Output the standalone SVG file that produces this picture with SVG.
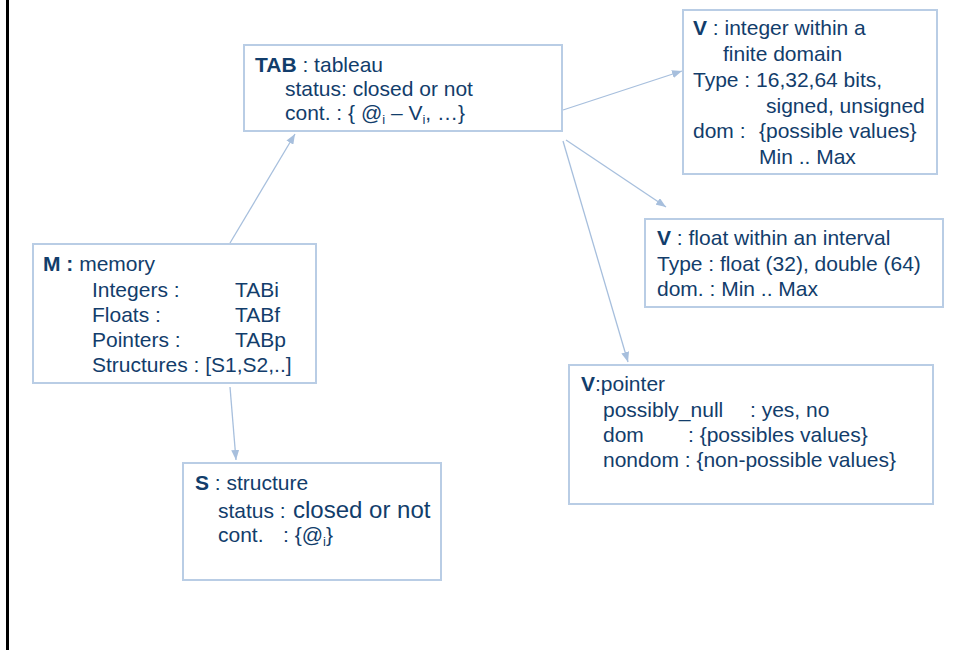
<svg xmlns="http://www.w3.org/2000/svg" width="953" height="650" viewBox="0 0 953 650">
<style>
.box{fill:#ffffff;stroke:#B9CDE5;stroke-width:2}
.t{font-family:"Liberation Sans",Arial,sans-serif;font-size:21px;fill:#123D6B}
.b{font-weight:bold}
.big{font-size:24px}
.sub{font-size:13px}
.conn{stroke:#A7BFDD;stroke-width:1.3;fill:none;marker-end:url(#ah)}
</style>
<defs>
<marker id="ah" markerUnits="userSpaceOnUse" markerWidth="10" markerHeight="8" refX="10" refY="4" orient="auto">
<path d="M0,0 L10,4 L0,8 z" fill="#A7BFDD"/>
</marker>
</defs>
<rect width="953" height="650" fill="#ffffff"/>
<line x1="7.5" y1="0" x2="7.5" y2="650" stroke="#000000" stroke-width="3"/>

<g id="connectors">
<line class="conn" x1="230" y1="243" x2="295" y2="134"/>
<line class="conn" x1="563" y1="110" x2="682" y2="71"/>
<line class="conn" x1="566" y1="140" x2="666" y2="207"/>
<line class="conn" x1="563" y1="141" x2="628" y2="362"/>
<line class="conn" x1="230" y1="387" x2="236" y2="460"/>
</g>

<g id="tab">
<rect class="box" x="244" y="45" width="318" height="86"/>
<text class="t" x="255" y="72"><tspan class="b">TAB</tspan> : tableau</text>
<text class="t" x="285" y="96">status: closed or not</text>
<text class="t" x="285" y="120">cont. : { @<tspan class="sub" dy="4">i</tspan><tspan dy="-4"> – V</tspan><tspan class="sub" dy="4">i</tspan><tspan dy="-4">, …}</tspan></text>
</g>

<g id="vint">
<rect class="box" x="683" y="10" width="254" height="164"/>
<text class="t" x="693" y="35"><tspan class="b">V</tspan> : integer within a</text>
<text class="t" x="723" y="61">finite domain</text>
<text class="t" x="693" y="87">Type : 16,32,64 bits,</text>
<text class="t" x="766" y="112.5">signed, unsigned</text>
<text class="t" x="693" y="138">dom :<tspan x="759">{possible values}</tspan></text>
<text class="t" x="759" y="164">Min .. Max</text>
</g>

<g id="vfloat">
<rect class="box" x="645" y="219" width="298" height="88"/>
<text class="t" x="657" y="245"><tspan class="b">V</tspan> : float within an interval</text>
<text class="t" x="657" y="270.5">Type : float (32), double (64)</text>
<text class="t" x="657" y="296">dom. : Min .. Max</text>
</g>

<g id="vptr">
<rect class="box" x="569" y="365" width="364" height="139"/>
<text class="t" x="581" y="391"><tspan class="b">V</tspan>:pointer</text>
<text class="t" x="603" y="416.5">possibly_null<tspan x="750">: yes, no</tspan></text>
<text class="t" x="603" y="441.5">dom<tspan x="688">: {possibles values}</tspan></text>
<text class="t" x="603" y="466.5">nondom : {non-possible values}</text>
</g>

<g id="mem">
<rect class="box" x="33" y="244" width="283" height="139"/>
<text class="t" x="43" y="271"><tspan class="b">M :</tspan> memory</text>
<text class="t" x="92" y="296.5">Integers :<tspan x="235">TABi</tspan></text>
<text class="t" x="92" y="322">Floats :<tspan x="235">TABf</tspan></text>
<text class="t" x="92" y="347">Pointers :<tspan x="235">TABp</tspan></text>
<text class="t" x="92" y="372">Structures : [S1,S2,..]</text>
</g>

<g id="struct">
<rect class="box" x="183" y="463" width="258" height="117"/>
<text class="t" x="195" y="490"><tspan class="b">S</tspan> : structure</text>
<text class="t" x="218" y="517.5">status : <tspan class="big" x="293">closed or not</tspan></text>
<text class="t" x="218" y="542">cont.<tspan x="283">: {@</tspan><tspan class="sub" dy="4">i</tspan><tspan dy="-4">}</tspan></text>
</g>
</svg>
